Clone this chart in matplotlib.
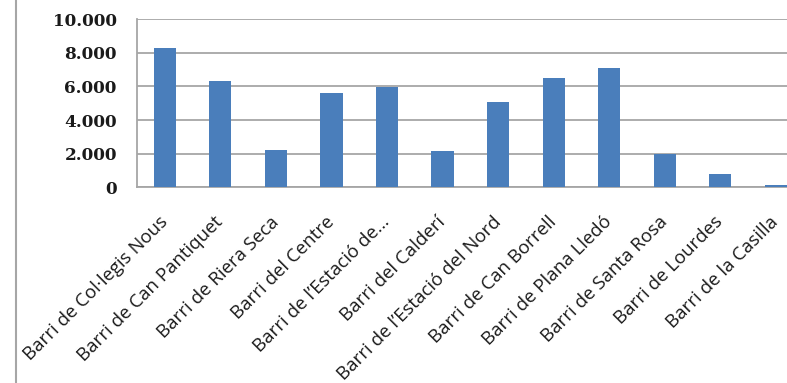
import matplotlib
matplotlib.use("Agg")
import matplotlib.pyplot as plt
from matplotlib.ticker import FuncFormatter
from matplotlib.lines import Line2D

barris = [
    "Barri de Col·legis Nous",
    "Barri de Can Pantiquet",
    "Barri de Riera Seca",
    "Barri del Centre",
    "Barri de l’Estació de…",
    "Barri del Calderí",
    "Barri de l’Estació del Nord",
    "Barri de Can Borrell",
    "Barri de Plana Lledó",
    "Barri de Santa Rosa",
    "Barri de Lourdes",
    "Barri de la Casilla",
]
habitants = [8280, 6330, 2240, 5610, 5990, 2160, 5060, 6490, 7120, 1980, 810, 120]
y_ticks = [0, 2000, 4000, 6000, 8000, 10000]

grey = "#a6a6a6"
blue = "#4a7ebb"

fig = plt.figure(figsize=(7.87, 3.83), dpi=100)
ax = fig.add_axes([137 / 787, 1 - 187.3 / 383, 1 - 137 / 787, (187.3 - 19.3) / 383])

x = list(range(len(barris)))
ax.bar(x, habitants, width=0.4, color=blue, zorder=3)

ax.set_ylim(0, 10000)
ax.set_xlim(-0.5, len(barris) - 1 + 0.2)
ax.set_yticks(y_ticks)
ax.yaxis.set_major_formatter(FuncFormatter(lambda v, p: f"{int(v):,}".replace(",", ".")))
ax.grid(axis="y", color=grey, linewidth=1.3, zorder=0)

for side in ("top", "right"):
    ax.spines[side].set_visible(False)
for side in ("left", "bottom"):
    ax.spines[side].set_color(grey)
    ax.spines[side].set_linewidth(1.3)

ax.tick_params(axis="y", length=0, pad=14.5)
ax.tick_params(axis="x", length=0, pad=23)
for lab in ax.get_yticklabels():
    lab.set_fontfamily("DejaVu Serif")
    lab.set_fontweight("bold")
    lab.set_fontsize(12.2)
    lab.set_color("#1a1a1a")

ax.set_xticks(x)
ax.set_xticklabels(barris, rotation=45, ha="right", va="center",
                   rotation_mode="anchor", fontfamily="Open Sans",
                   fontsize=13.4, color="#1a1a1a")

# thin frame line on the left edge of the figure
fig.add_artist(Line2D([16 / 787, 16 / 787], [0, 1], transform=fig.transFigure,
                      color=grey, linewidth=1.5))

fig.savefig("out.png", dpi=100)
